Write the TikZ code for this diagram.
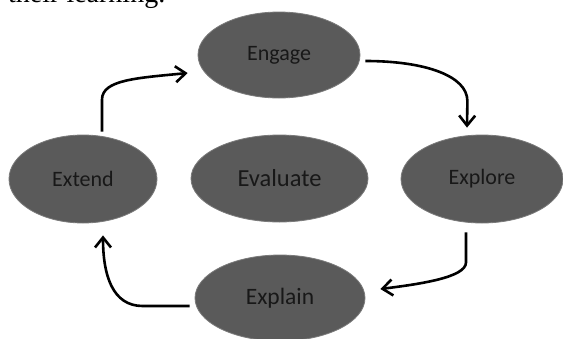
\documentclass[tikz,border=0pt]{standalone}
\usepackage{fontspec}
\setmainfont{Carlito}
\newfontfamily\bodyserif{Liberation Serif}
\usetikzlibrary{shapes.geometric,arrows.meta}
\definecolor{phasefill}{HTML}{5A5A5A}
\definecolor{phaseline}{HTML}{7A7A7A}
\definecolor{phasetext}{HTML}{181818}
\tikzset{
  phase/.style={ellipse, fill=phasefill, draw=phaseline, line width=0.8pt,
    inner sep=0pt, text=phasetext, font=\fontsize{22}{26}\selectfont},
  flow/.style={line width=2.6pt, -{Straight Barb[length=10pt,width=16pt,line width=2.6pt]}}
}
\begin{document}
\begin{tikzpicture}[x=1pt,y=-1pt]
  \useasboundingbox (0,0) rectangle (563,338);

  % leftover line of the page above
  \node[anchor=base west, inner sep=0pt, font=\bodyserif\fontsize{28}{32}\selectfont] (prev) at (8,2.5) {their learning.};

  \node[phase, minimum width=162pt, minimum height=86pt] (engage) at (279,55) {Engage};
  \node[phase, minimum width=148pt, minimum height=88pt] (extend) at (83,179) {Extend};
  \node[phase, minimum width=177pt, minimum height=87pt, font=\fontsize{24.5}{28}\selectfont] (evaluate) at (279.5,178.5) {Evaluate};
  \node[phase, minimum width=162pt, minimum height=88pt] (explore) at (482,179) {Explore};
  \node[phase, minimum width=170pt, minimum height=86pt, font=\fontsize{23.5}{27}\selectfont] (explain) at (280,298) {Explain};

  \draw[flow] ([xshift=5pt,yshift=-6pt]engage.east) .. controls +(60,0) and +(0,-25) .. ++(102,40) -- ([xshift=-15pt,yshift=7pt]explore.north); % engage to explore
  \draw[flow] ([xshift=-16pt,yshift=-9pt]explore.south) -- ++(0,30) .. controls +(0,15) and +(40,-5) .. ([xshift=15pt,yshift=9pt]explain.east); % explore to explain
  \draw[flow] ([xshift=-5pt,yshift=-8pt]explain.west) -- ++(-47,0) .. controls +(-30,0) and +(0,40) .. ([xshift=20pt,yshift=-12pt]extend.south); % explain to extend
  \draw[flow] ([xshift=19pt,yshift=3pt]extend.north) -- ++(0,-32) .. controls +(0,-20) and +(-50,5) .. ([xshift=-10pt,yshift=-18pt]engage.west); % extend to engage

\end{tikzpicture}
\end{document}
